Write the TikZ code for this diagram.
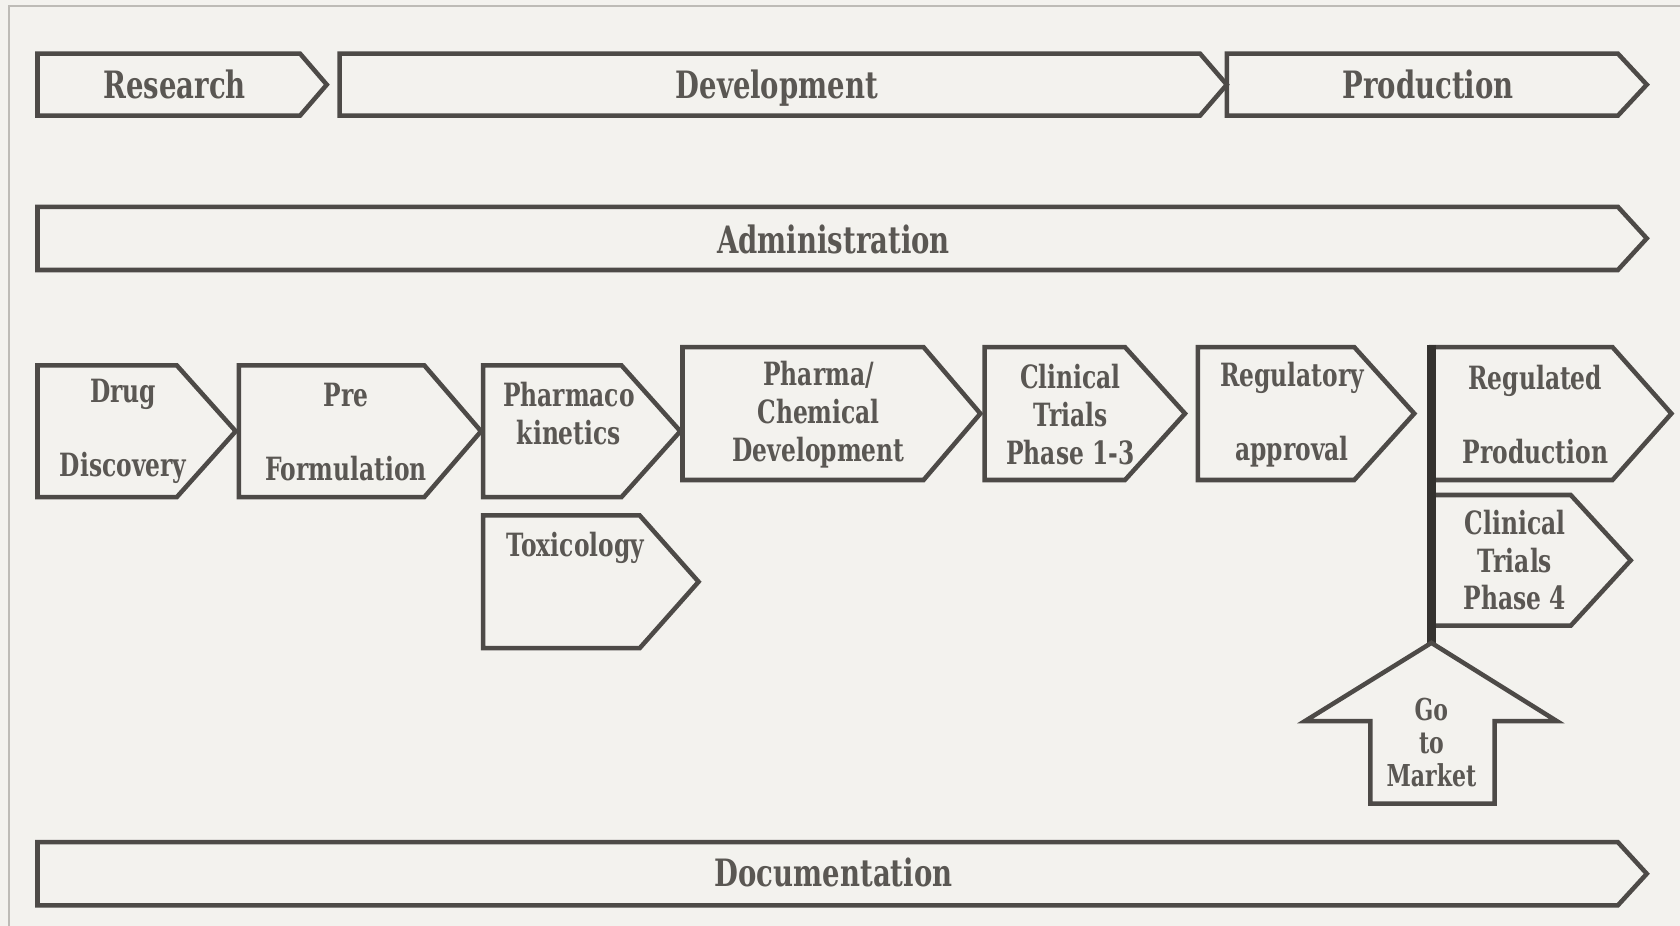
\documentclass[tikz,border=0pt]{standalone}
\usepackage{fontspec}
\setmainfont{DejaVu Serif}[FakeStretch=0.73]
\definecolor{paper}{HTML}{F3F2EE}
\definecolor{edge}{HTML}{4D4A47}
\definecolor{post}{HTML}{34322F}
\definecolor{ink}{HTML}{5A5753}
\definecolor{frame}{HTML}{BDBBB6}

\begin{document}
\begin{tikzpicture}[x=0.01cm,y=-0.01cm,
   box/.style={draw=edge,line width=1.2pt,line join=miter},
   big/.style={text=ink,align=center,text height=0.75em,text depth=0.25em,font=\fontsize{10}{12}\selectfont\bfseries},
   sml/.style={text=ink,align=center,font=\fontsize{8.5}{10}\selectfont\bfseries}]
   \def\chev#1#2#3#4#5{\draw[box] (#1,#4) -- (#2,#4) -- (#3,{(#4+#5)/2}) -- (#2,#5) -- (#1,#5) -- cycle;}
   \useasboundingbox (0,0) rectangle (1568,864);
   \fill[paper] (0,0) rectangle (1568,864);
   \draw[frame,line width=0.5pt] (8,864) -- (8,6) -- (1568,6);
   % phases
   \chev{35}{280}{305}{50}{108}
   \chev{317}{1120}{1145}{50}{108}
   \chev{1145}{1510}{1537}{50}{108}
   \node[big] (research) at (163,83) {Research};
   \node[big] (development) at (725,83) {Development};
   \node[big] (production) at (1333,83) {Production};
   \chev{35}{1510}{1537}{193}{252}
   \node[big] (admin) at (778,228) {Administration};
   % steps
   \chev{35}{165}{220}{341}{464}
   \chev{223}{396}{449}{341}{464}
   \chev{451}{580}{635}{341}{464}
   \chev{451}{597}{652}{481}{605}
   \chev{637}{862}{915}{324}{448}
   \chev{919}{1050}{1106}{324}{448}
   \chev{1118}{1264}{1320}{324}{448}
   \chev{1336}{1505}{1560}{324}{448}
   \chev{1336}{1466}{1522}{462}{584}
   \node[sml] (drug) at (115,403) {Drug\\[9.6pt]Discovery};
   \node[sml] (pre) at (323,403) {Pre\\[9.6pt]Formulation};
   \node[sml] (pk) at (531,386) {Pharmaco\\kinetics};
   \node[sml] (tox) at (537,511) {Toxicology};
   \node[sml] (chem) at (764,387) {Pharma/\\Chemical\\Development};
   \node[sml] (ct13) at (999,387) {Clinical\\Trials\\Phase 1-3};
   \node[sml] (reg) at (1206,387) {Regulatory\\[9.6pt]approval};
   \node[sml] (prod) at (1433,387) {Regulated\\[9.6pt]Production};
   \node[sml] (ct4) at (1414,523) {Clinical\\Trials\\Phase 4};
   % go to market
   \draw[post,line width=2.2pt] (1336,322) -- (1336,600);
   \draw[box] (1336,600) -- (1453,673) -- (1395,673) -- (1395,750) -- (1279,750)
      -- (1279,673) -- (1218,673) -- cycle;
   \node[text=ink,align=center,font=\fontsize{8}{8.8}\selectfont\bfseries] (market) at (1336,693) {Go\\to\\Market};
   \chev{35}{1510}{1537}{786}{845}
   \node[big] (doc) at (778,819) {Documentation};
\end{tikzpicture}
\end{document}
